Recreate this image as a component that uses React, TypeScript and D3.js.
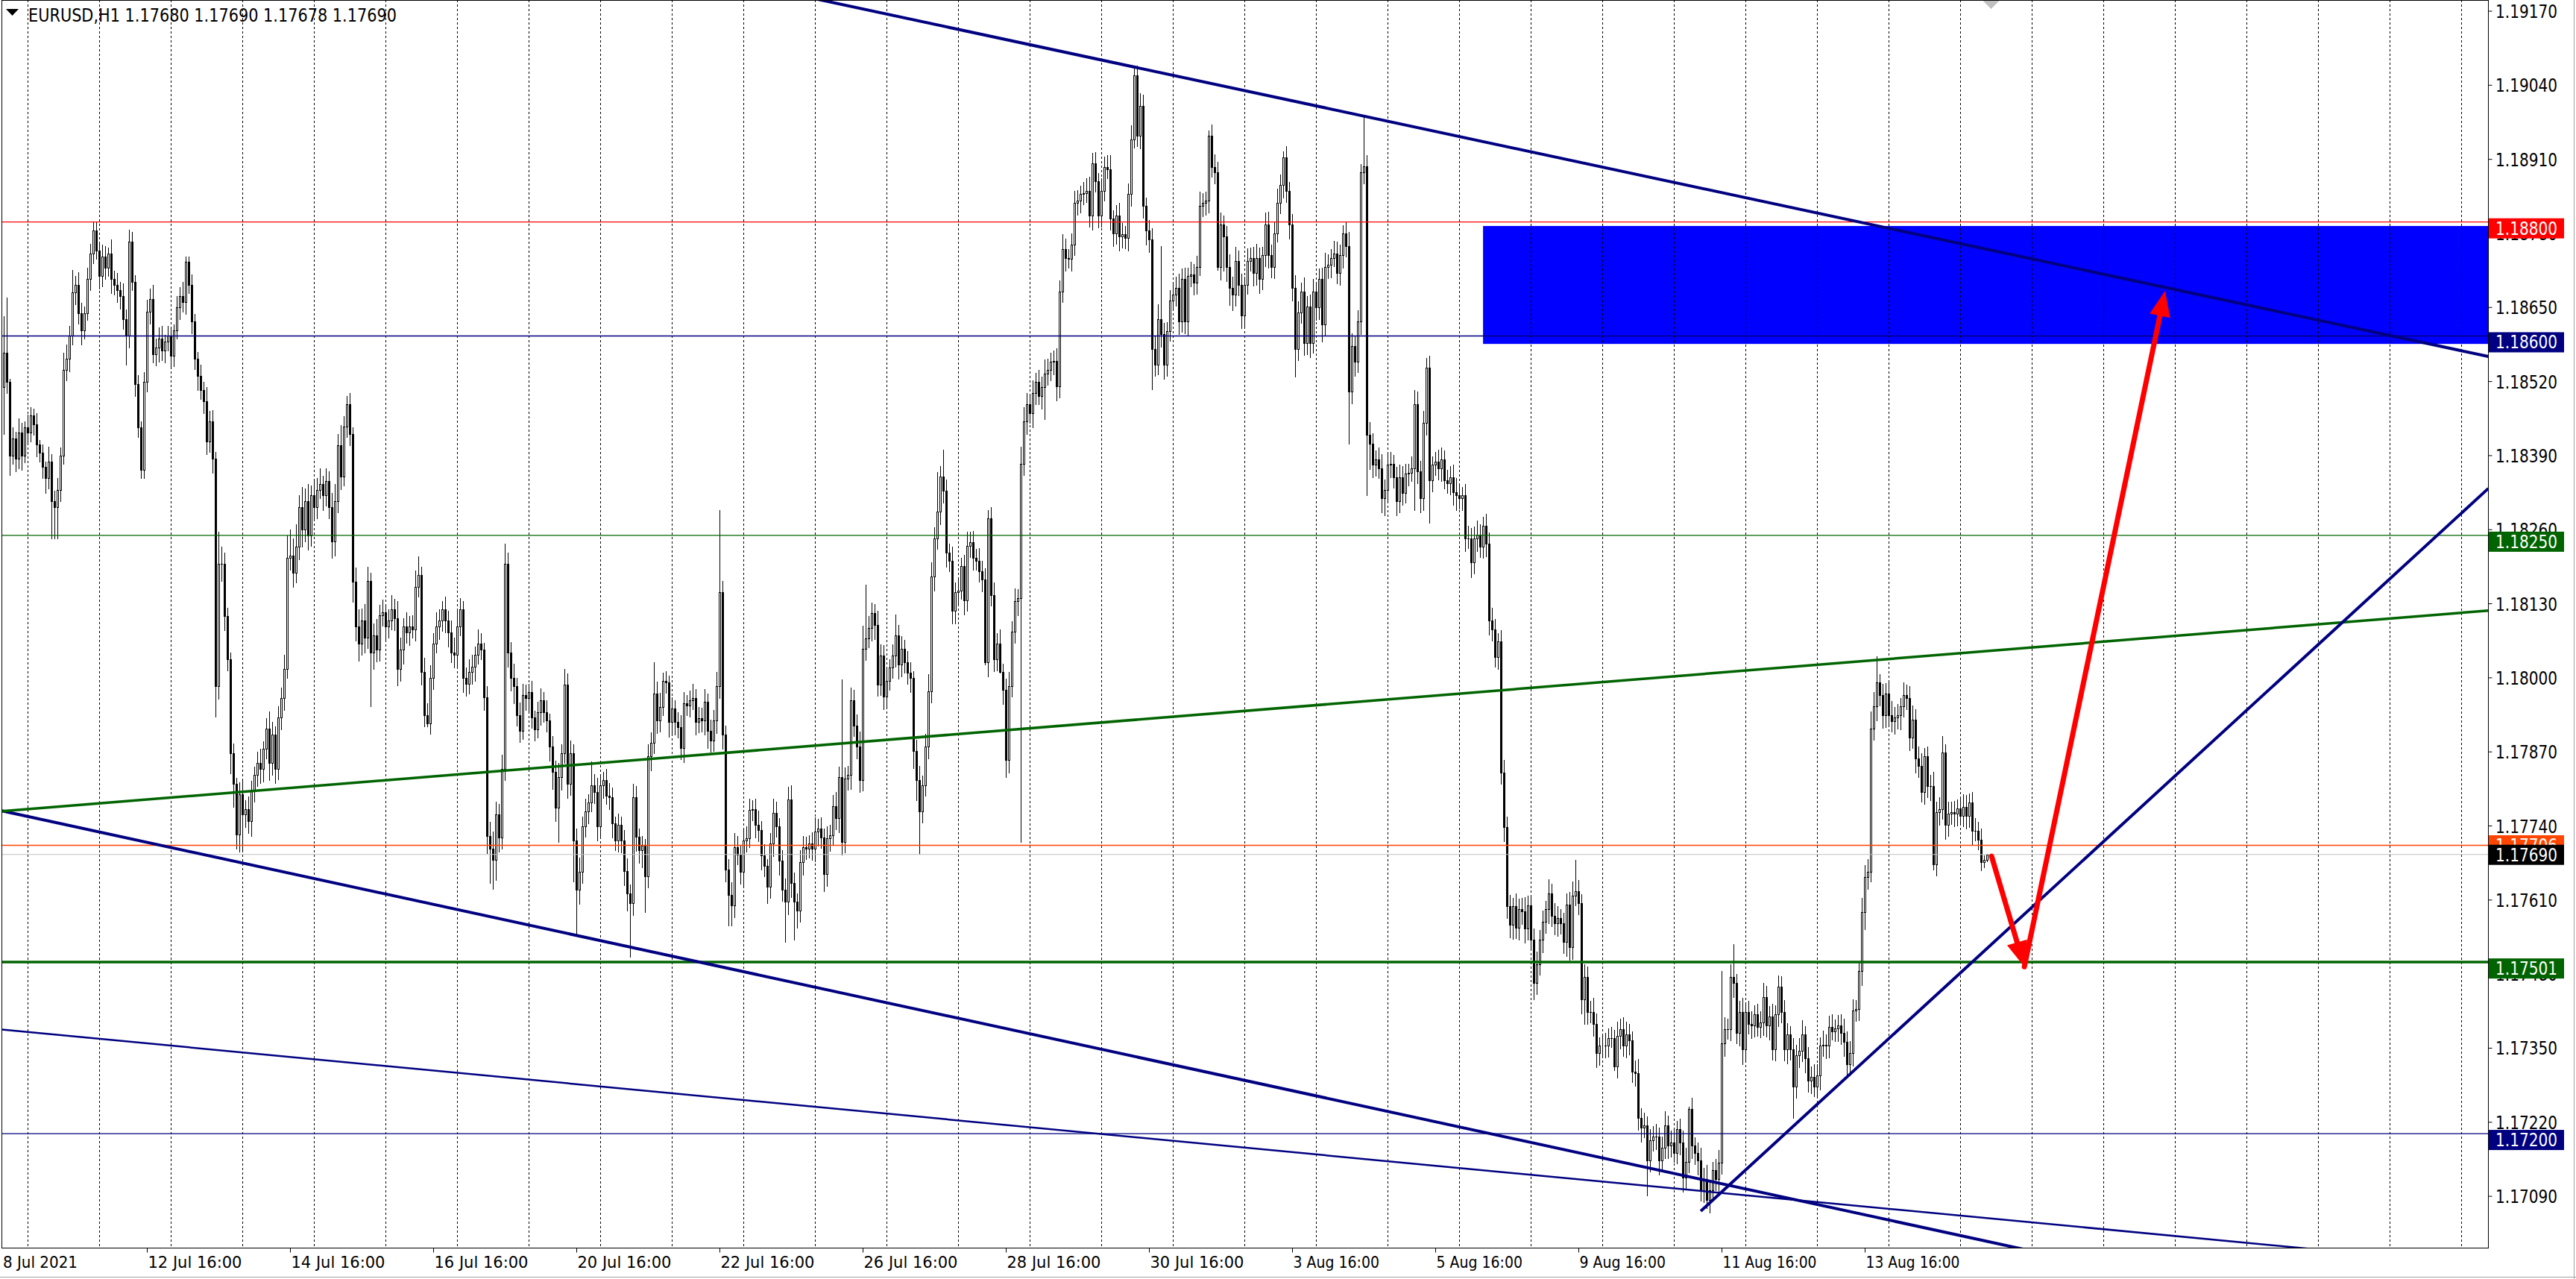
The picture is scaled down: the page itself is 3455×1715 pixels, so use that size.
import React from "react";
import * as d3 from "d3";

const W = 3455;
const H = 1715;
const PLOT_L = 2.5;
const PLOT_R = 3337.5;
const PLOT_T = 0.5;
const PLOT_B = 1673.5;

// Hourly EURUSD candles, values in 1e-5 above 1.17000 (e.g. 1570 => 1.18570)
const PRICE_BASE = 1.17;
const FIRST_OPEN = 1510;
const CLOSE = [
  1570,1520,1390,1420,1385,1430,1390,1440,1430,1460,1445,1410,1395,1370,1350,1380,1310,1300,1330,1390,1540,1560,1600,1676,
  1690,1640,1610,1640,1700,1745,1785,1750,1705,1740,1720,1745,1700,1690,1680,1670,1630,1600,1765,1695,1516,1440,1365,1520,
  1643,1665,1568,1580,1595,1575,1590,1600,1565,1610,1650,1670,1660,1730,1690,1625,1560,1530,1505,1485,1415,1450,1385,985,
  1200,1200,1108,1033,867,814,725,796,760,770,748,801,830,850,840,876,911,850,900,840,930,965,1015,1210,
  1215,1185,1230,1300,1260,1310,1250,1320,1300,1330,1340,1320,1345,1300,1240,1310,1408,1353,1441,1480,1428,1169,1090,1060,
  1100,1070,1170,1045,1075,1050,1110,1115,1090,1100,1120,1105,1015,1050,1090,1080,1090,1085,1160,1180,1010,935,920,1000,
  1060,1090,1100,1120,1100,1080,1045,1040,1090,1120,1000,990,1010,1020,1040,1060,1050,966,722,700,680,760,720,840,
  1200,1045,1000,985,934,907,970,965,975,930,910,940,960,940,925,880,835,772,826,868,988,814,868,715,
  628,660,739,766,781,811,800,739,811,820,793,790,745,715,742,715,661,622,604,790,721,697,705,652,
  862,886,973,925,949,994,992,922,946,922,913,877,955,952,960,965,922,929,925,958,907,890,925,985,
  1150,901,664,619,600,703,690,660,715,718,768,770,742,733,688,670,634,709,763,739,679,628,607,787,
  640,607,592,676,703,700,709,700,730,735,720,655,718,724,775,754,826,712,823,830,961,916,880,820,
  1051,1069,1087,1114,1093,988,1039,967,994,1018,1039,1075,1024,1051,1027,1009,1000,871,820,766,811,880,976,1178,
  1244,1292,1353,1328,1220,1205,1117,1150,1153,1196,1136,1232,1238,1211,1205,1187,1172,1027,1280,1145,1033,1060,1010,979,
  856,985,1081,1135,1140,1376,1450,1480,1465,1500,1520,1495,1510,1534,1540,1555,1556,1512,1678,1753,1737,1735,1760,1833,
  1838,1849,1850,1855,1812,1903,1871,1812,1855,1897,1892,1806,1780,1812,1775,1778,1772,1849,1945,2058,1951,2004,1828,1785,
  1769,1577,1550,1630,1603,1550,1609,1662,1673,1684,1625,1700,1625,1705,1708,1694,1721,1828,1833,1838,1951,1897,1887,1721,
  1796,1775,1721,1684,1673,1732,1689,1636,1689,1732,1737,1710,1737,1700,1742,1796,1742,1721,1780,1833,1865,1913,1855,1796,
  1684,1577,1641,1678,1588,1652,1588,1678,1650,1700,1620,1721,1725,1737,1745,1710,1742,1780,1758,1502,1582,1555,1625,1887,
  1898,1427,1411,1374,1384,1368,1315,1330,1374,1376,1352,1310,1352,1325,1358,1360,1368,1480,1363,1315,1448,1545,1347,1374,
  1379,1368,1384,1347,1342,1352,1326,1320,1315,1320,1245,1245,1203,1245,1251,1230,1267,1235,1101,1085,1037,1064,834,738,
  599,567,599,561,594,590,560,600,540,465,497,540,572,594,621,582,569,579,569,537,602,527,618,625,
  605,436,475,413,413,393,341,354,355,355,367,367,318,371,384,354,374,364,309,306,227,211,215,153,
  188,195,195,153,175,214,179,185,166,208,185,123,150,243,179,166,153,100,120,84,100,136,120,149,
  358,384,384,475,465,377,413,348,413,393,390,410,387,395,439,390,406,348,410,458,413,348,374,348,
  283,338,345,374,332,293,300,283,302,354,356,354,387,380,385,390,377,361,322,341,416,419,485,589,
  651,660,911,950,992,970,934,973,934,924,931,934,950,970,965,895,927,859,846,800,862,810,810,673,
  764,770,869,742,761,764,761,771,758,774,758,781,732,732,716,677,680,690,
];
const UPPER_WICK = [
  65,97,5,20,12,25,18,10,22,15,12,20,8,15,10,25,12,18,20,14,30,25,18,40,
  15,22,18,12,20,16,15,15,12,20,18,10,25,14,20,15,22,16,22,18,12,15,10,16,
  20,18,25,15,20,22,12,18,15,10,20,16,25,10,10,18,14,12,20,15,25,18,20,12,
  57,30,20,15,12,18,10,20,25,15,22,18,14,20,25,12,18,30,22,15,20,18,25,40,
  45,30,40,20,35,22,30,18,25,20,28,15,22,18,25,30,20,35,18,14,20,12,25,30,
  22,30,25,15,20,28,18,22,15,20,25,18,30,20,15,25,18,20,28,33,15,25,20,22,
  18,25,20,15,22,18,20,25,28,20,15,18,22,20,15,25,18,12,20,25,30,22,18,25,
  35,20,18,25,15,22,20,18,15,20,12,18,22,15,20,12,18,20,25,15,27,20,22,15,
  20,25,18,22,15,42,20,25,18,15,20,22,18,12,20,15,18,22,15,24,20,15,18,12,
  22,18,54,20,25,15,18,12,20,15,18,22,20,15,18,25,15,20,18,22,15,20,18,25,
  145,20,15,18,22,25,20,15,18,22,20,15,18,25,15,20,12,18,25,20,15,18,20,22,
  25,18,15,22,20,18,15,20,25,18,20,15,22,18,20,25,18,171,20,15,22,18,20,25,
  40,94,22,18,15,25,20,18,22,15,20,36,18,22,15,20,18,12,20,25,18,22,30,25,
  20,69,18,47,20,15,25,18,22,15,20,25,18,20,15,22,18,20,15,20,22,18,25,15,
  20,25,18,22,15,30,25,20,18,22,15,20,18,25,20,15,18,22,20,25,18,15,20,22,
  18,15,20,22,25,18,20,15,22,18,20,25,15,18,22,20,15,18,25,16,16,22,20,15,
  18,20,22,25,128,20,15,18,22,20,25,18,20,15,22,18,20,25,18,15,10,20,22,18,
  20,15,18,22,20,25,18,20,15,22,18,20,25,18,15,20,22,18,20,25,18,11,20,15,
  18,22,20,15,25,18,20,22,15,18,20,25,18,15,22,20,18,15,20,25,22,18,20,15,
  90,20,22,18,15,20,25,18,22,20,15,18,22,20,18,15,20,25,22,18,20,16,20,15,
  18,22,20,15,18,20,22,25,18,15,20,22,18,20,25,18,15,21,20,22,18,15,20,22,
  18,20,15,22,18,20,25,18,15,20,22,18,20,15,25,18,22,20,15,18,20,22,25,55,
  20,15,22,18,20,25,18,15,20,22,18,20,15,25,18,20,22,18,15,20,25,18,22,15,
  20,18,22,15,20,25,18,20,22,15,18,20,25,4,20,15,18,22,20,25,18,15,20,22,
  127,20,18,22,58,15,20,25,18,20,22,15,18,20,25,20,18,22,15,20,18,22,20,15,
  20,18,22,25,15,20,18,22,20,15,25,18,20,22,15,18,20,25,18,22,20,15,18,25,
  20,22,30,25,46,15,20,18,22,25,18,20,15,22,18,20,25,18,20,22,15,18,20,25,
  18,20,29,15,22,18,20,15,18,22,20,16,18,22,15,20,8,0,
];
const LOWER_WICK = [
  82,20,34,15,22,18,25,12,20,15,18,22,15,20,25,18,65,55,55,20,15,18,22,15,
  20,18,25,15,12,20,18,15,22,18,20,15,25,18,20,22,18,50,20,15,22,18,15,15,
  18,22,15,20,25,18,22,15,20,18,15,20,18,22,15,20,18,25,15,20,22,18,25,53,
  22,30,25,20,35,40,25,30,64,22,20,25,18,20,25,22,18,30,20,25,18,20,22,15,
  20,25,18,22,30,20,25,18,22,20,15,25,18,20,30,25,20,22,15,18,20,35,25,30,
  20,25,18,95,30,22,20,18,25,20,15,22,28,20,25,18,22,15,20,18,22,20,5,18,
  20,15,22,18,20,25,18,22,20,15,25,22,18,20,25,15,18,22,30,60,50,35,25,20,
  20,25,22,30,18,20,15,22,25,18,20,15,22,18,20,25,30,24,60,22,18,25,20,72,
  78,25,20,18,22,15,20,25,18,22,15,20,25,18,20,22,25,30,94,20,25,22,30,63,
  20,25,18,22,20,15,18,25,20,22,18,20,25,18,20,15,22,18,20,25,30,20,18,22,
  20,25,22,54,35,20,18,22,25,20,15,18,22,20,25,18,30,20,22,18,25,20,70,22,
  25,67,30,20,22,18,15,20,22,25,18,30,20,22,18,20,25,22,18,20,25,18,22,20,
  18,20,15,22,25,20,18,22,20,15,18,20,25,22,18,20,25,30,35,75,20,18,22,20,
  25,18,22,20,25,18,22,21,20,15,25,18,20,22,15,18,20,3,25,18,22,20,1,25,
  30,22,18,20,25,428,20,22,18,25,20,15,22,56,20,18,22,25,20,18,22,15,20,18,
  20,22,18,15,20,25,18,22,20,18,15,20,22,18,25,20,18,22,20,15,18,22,20,25,
  22,70,20,18,22,25,20,18,15,20,22,18,20,25,18,22,20,15,18,20,22,18,20,5,
  22,60,25,30,28,20,18,22,20,15,18,22,20,25,18,20,22,18,20,15,18,22,20,25,
  22,48,20,18,22,20,25,18,22,20,30,18,20,22,15,18,20,22,18,91,20,25,18,22,
  20,107,45,22,20,18,25,30,20,22,18,25,20,22,18,20,15,74,22,25,20,22,75,20,
  18,20,22,15,18,20,22,25,18,20,22,18,27,20,22,18,20,22,25,20,18,22,20,25,
  20,22,25,18,20,22,25,20,18,29,20,18,22,20,25,18,20,22,18,20,25,22,20,18,
  20,25,43,20,18,22,25,20,18,22,20,15,6,20,22,18,20,25,18,22,20,25,18,62,
  20,18,22,25,20,18,22,20,15,18,22,25,20,18,22,20,25,18,20,15,22,18,20,25,
  20,22,18,20,25,18,22,26,20,18,22,20,15,18,22,20,25,18,20,22,18,20,25,18,
  56,20,22,18,25,20,22,18,20,25,18,22,20,15,18,22,20,25,18,20,22,18,20,25,
  30,22,18,20,25,18,22,20,15,18,22,20,25,18,20,22,18,25,20,18,22,20,25,9,
  20,22,18,25,20,18,22,20,15,18,22,20,25,18,17,15,10,2,
];

const FIRST_BAR_UTC = Date.UTC(2021, 6, 8, 16, 0);
const PRICE_TICKS = [1.1917, 1.1904, 1.1891, 1.1878, 1.1865, 1.1852, 1.1839, 1.1826, 1.1813, 1.18, 1.1787, 1.1774, 1.1761, 1.1748, 1.1735, 1.1722, 1.1709];
const HEADER = "EURUSD,H1  1.17680 1.17690 1.17678 1.17690";

// horizontal levels
const LEVEL_PRICES = [1.188, 1.186, 1.1825, 1.17706, 1.1769, 1.17501, 1.172];
// zone rectangle: [startBar, topPrice, bottomPrice]
const ZONE = [495.9, 1.18793, 1.18586];
// trend lines as [bar, price] anchor pairs
const TREND_UPPER = [[348.6, 1.19106], [818.6, 1.1858]];
const TREND_LOWER = [[-0.25, 1.17766], [552.1, 1.17139]];
const TREND_LOWER2 = [[-1.375, 1.17383], [776.9, 1.16996]];
const TREND_GREEN = [[-0.25, 1.17766], [832.9, 1.18118]];
const TREND_RISE = [[568.9, 1.17064], [832.9, 1.18332]];
// red forecast arrows
const ARROW_1 = [[666.4, 1.17687], [677.4, 1.17493]];
const ARROW_2 = [[677.4, 1.17493], [724.6, 1.18679]];

const x = d3.scaleLinear().domain([0, 1]).range([5.5, 9.5]);
const y = d3.scaleLinear().domain([1.1917, 1.1709]).range([15, 15 + 0.0208 * 76400]);

function barTimes(n: number): Date[] {
  const out: Date[] = [];
  let t = FIRST_BAR_UTC;
  while (out.length < n) {
    const d = new Date(t);
    const wd = d.getUTCDay();
    if (wd !== 0 && wd !== 6) out.push(d);
    t += 3600000;
  }
  return out;
}

function lineThrough(a: number[], b: number[], x0: number, x1: number) {
  const ax = x(a[0]), ay = y(a[1]), bx = x(b[0]), by = y(b[1]);
  const s = (by - ay) / (bx - ax);
  return { x1: x0, y1: ay + (x0 - ax) * s, x2: x1, y2: ay + (x1 - ax) * s };
}

function Arrow({ a, b }: { a: number[]; b: number[] }) {
  const ax = x(a[0]), ay = y(a[1]), bx = x(b[0]), by = y(b[1]);
  const dx = bx - ax, dy = by - ay;
  const len = Math.hypot(dx, dy);
  const ux = dx / len, uy = dy / len;
  const hl = 34, hw = 14;
  const baseX = bx - ux * hl, baseY = by - uy * hl;
  const pts = [
    [bx, by],
    [baseX - uy * hw, baseY + ux * hw],
    [baseX + uy * hw, baseY - ux * hw],
  ];
  return (
    <g>
      <line x1={ax} y1={ay} x2={baseX + ux * 3} y2={baseY + uy * 3} stroke="#FF0000" strokeWidth={7} strokeLinecap="round" />
      <polygon points={pts.map((p) => p.join(",")).join(" ")} fill="#FF0000" />
    </g>
  );
}

export default function App() {
  const n = Math.min(CLOSE.length, UPPER_WICK.length, LOWER_WICK.length);
  const times = barTimes(n);
  const fmtDate = d3.utcFormat("%-d %b %H:%M");
  const toPrice = (v: number) => PRICE_BASE + v * 1e-5;

  const candles = d3.range(n).map((i) => {
    const o = i === 0 ? FIRST_OPEN : CLOSE[i - 1];
    const c = CLOSE[i];
    const hi = Math.max(o, c) + UPPER_WICK[i];
    const lo = Math.min(o, c) - LOWER_WICK[i];
    return { i, o: toPrice(o), c: toPrice(c), h: toPrice(hi), l: toPrice(lo) };
  });

  const firstMidnight = times.findIndex((d) => d.getUTCHours() === 0);
  const gridIdx: number[] = [];
  for (let i = firstMidnight; x(i) < PLOT_R - 2; i += 24) gridIdx.push(i);

  const tickIdx: number[] = [];
  for (let i = 48; i < n; i += 48) tickIdx.push(i);

  const font = "'DejaVu Sans', 'Liberation Sans', sans-serif";
  const fmtP = d3.format(".5f");

  const levelStyles = [
    { color: "#FF0000", w: 1.3, box: "#FF0000", off: -5 },
    { color: "#000080", w: 1.3, box: "#000080", off: -5 },
    { color: "#006400", w: 1.3, box: "#006400", off: -5 },
    { color: "#FF4500", w: 1.3, box: "#FF4500", off: -13.5 },
    { color: "#C0C0C0", w: 1, box: "#000000", off: -13 },
    { color: "#006400", w: 3.5, box: "#006400", off: -5 },
    { color: "#000080", w: 1.3, box: "#000080", off: -5 },
  ];

  const lu = lineThrough(TREND_UPPER[0], TREND_UPPER[1], PLOT_L, PLOT_R);
  const ll = lineThrough(TREND_LOWER[0], TREND_LOWER[1], PLOT_L, PLOT_R);
  const ll2 = lineThrough(TREND_LOWER2[0], TREND_LOWER2[1], PLOT_L, PLOT_R);
  const lg = lineThrough(TREND_GREEN[0], TREND_GREEN[1], PLOT_L, PLOT_R);
  const lr = lineThrough(TREND_RISE[0], TREND_RISE[1], x(TREND_RISE[0][0]), PLOT_R);
  const shiftX = x(n) + 1;

  return (
    <div style={{ position: "absolute", left: 0, top: 0, width: W, height: H, background: "#fff" }}>
      <svg width={W} height={H} viewBox={`0 0 ${W} ${H}`} style={{ display: "block" }}>
        <defs>
          <clipPath id="plot">
            <rect x={PLOT_L} y={PLOT_T} width={PLOT_R - PLOT_L} height={PLOT_B - PLOT_T} />
          </clipPath>
        </defs>
        <rect x={0} y={0} width={W} height={H} fill="#fff" />
        <g clipPath="url(#plot)">
          <rect x={x(ZONE[0])} y={y(ZONE[1])} width={PLOT_R - x(ZONE[0])} height={y(ZONE[2]) - y(ZONE[1])} fill="#0000FF" />
          {gridIdx.map((i) => (
            <line key={"g" + i} x1={x(i)} x2={x(i)} y1={0} y2={PLOT_B} stroke="#000" strokeWidth={1} strokeDasharray="3,3" shapeRendering="crispEdges" />
          ))}
          <g shapeRendering="crispEdges">
            {candles.map((d) => {
              const cx = x(d.i);
              const yo = Math.round(y(d.o));
              const yc = Math.round(y(d.c));
              const top = Math.min(yo, yc);
              const bot = Math.max(yo, yc);
              const bull = d.c > d.o;
              return (
                <g key={d.i}>
                  <line x1={cx} x2={cx} y1={Math.round(y(d.h))} y2={Math.round(y(d.l)) + 1} stroke="#000" strokeWidth={1} />
                  {bull ? (
                    <rect x={cx - 1} y={top + 0.5} width={2} height={Math.max(0, bot - top)} fill="#fff" stroke="#000" strokeWidth={1} />
                  ) : (
                    <rect x={cx - 1.5} y={top} width={3} height={Math.max(1, bot - top + 1)} fill="#000" />
                  )}
                </g>
              );
            })}
          </g>
          {LEVEL_PRICES.map((p, k) => (
            <line key={"h" + k} x1={PLOT_L} x2={PLOT_R} y1={y(p)} y2={y(p)} stroke={levelStyles[k].color} strokeWidth={levelStyles[k].w} />
          ))}
          <line {...lu} stroke="#000080" strokeWidth={4} />
          <line {...ll} stroke="#000080" strokeWidth={4} />
          <line {...ll2} stroke="#000080" strokeWidth={2.5} />
          <line {...lg} stroke="#006400" strokeWidth={3.5} />
          <line {...lr} stroke="#000080" strokeWidth={4} />
          <Arrow a={ARROW_1[0]} b={ARROW_1[1]} />
          <Arrow a={ARROW_2[0]} b={ARROW_2[1]} />
          <polygon points={`${shiftX - 12},0 ${shiftX + 12},0 ${shiftX},12`} fill="#C0C0C0" />
        </g>

        <rect x={PLOT_L} y={PLOT_T} width={PLOT_R - PLOT_L} height={PLOT_B - PLOT_T} fill="none" stroke="#000" strokeWidth={1} shapeRendering="crispEdges" />
        <line x1={W - 2.5} x2={W - 2.5} y1={0} y2={H} stroke="#A0A0A0" strokeWidth={1} />
        <line x1={0} x2={W} y1={H - 2.5} y2={H - 2.5} stroke="#A0A0A0" strokeWidth={1} />

        <polygon points="8,12 25,12 16.5,21" fill="#000" />
        <text x={38} y={29} fontFamily={font} fontSize={25} textLength={494} lengthAdjust="spacingAndGlyphs" fill="#000">{HEADER}</text>

        {PRICE_TICKS.map((p) => (
          <g key={"p" + p}>
            <line x1={PLOT_R} x2={PLOT_R + 5} y1={y(p)} y2={y(p)} stroke="#000" strokeWidth={1} />
            <text x={3347} y={y(p) + 9} fontFamily={font} fontSize={24} textLength={83} lengthAdjust="spacingAndGlyphs" fill="#000">{fmtP(p)}</text>
          </g>
        ))}
        {LEVEL_PRICES.map((p, k) => {
          const st = levelStyles[k];
          const top = y(p) + st.off;
          return (
            <g key={"lb" + k}>
              <rect x={3338} y={top} width={101} height={27} fill={st.box} />
              <text x={3347} y={top + 22} fontFamily={font} fontSize={24} textLength={83} lengthAdjust="spacingAndGlyphs" fill="#fff">{fmtP(p)}</text>
            </g>
          );
        })}

        <text x={4} y={1700} fontFamily={font} fontSize={21} textLength={100} lengthAdjust="spacingAndGlyphs" fill="#000">8 Jul 2021</text>
        {tickIdx.map((i) => {
          const lbl = fmtDate(times[i]);
          return (
            <g key={"t" + i}>
              <line x1={x(i)} x2={x(i)} y1={PLOT_B} y2={PLOT_B + 6} stroke="#000" strokeWidth={1} />
              <text x={x(i) + 1} y={1700} fontFamily={font} fontSize={21} textLength={lbl.length * 10.5} lengthAdjust="spacingAndGlyphs" fill="#000">{lbl}</text>
            </g>
          );
        })}
      </svg>
    </div>
  );
}
